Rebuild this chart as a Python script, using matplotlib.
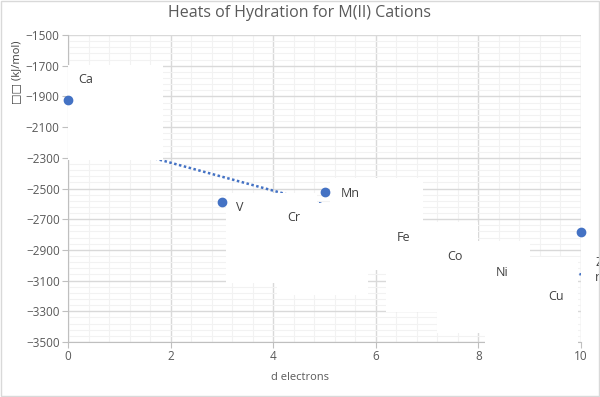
import numpy as np
import matplotlib.pyplot as plt
from matplotlib.patches import Rectangle
from matplotlib.ticker import MultipleLocator

# visible data points (d electron count vs heat of hydration)
d_count = [0, 3, 5, 10]
heat = [-1923, -2588, -2522, -2783]

# dotted linear trendline as drawn in the chart
trend_x = [0, 10]
trend_y = [-2150, -3060]

labels = ['Ca', 'V', 'Cr', 'Mn', 'Fe', 'Co', 'Ni', 'Cu', 'Z\nn']

# label box layout (left, top, right, bottom) in data units
boxes = [
    (0.00, -1695, 1.85, -2314),
    (3.08, -2529, 4.85, -3116),
    (4.07, -2594, 5.85, -3194),
    (5.11, -2432, 6.92, -3031),
    (6.20, -2718, 7.99, -3305),
    (7.19, -2842, 9.01, -3441),
    (8.13, -2946, 9.94, -3530),
    (9.16, -3103, 9.94, -3530),
    (10.08, -2842, 11.9, -3441),
]

blue = '#4472C4'
grey = '#595959'
font = ['Open Sans', 'DejaVu Sans']

fig = plt.figure(figsize=(6.0, 3.97), dpi=100)
ax = fig.add_axes([68 / 600, 1 - 342 / 397, 513 / 600, 307 / 397])

ax.set_xlim(0, 10)
ax.set_ylim(-3500, -1500)
ax.xaxis.set_major_locator(MultipleLocator(2))
ax.xaxis.set_minor_locator(MultipleLocator(0.4))
ax.yaxis.set_major_locator(MultipleLocator(200, offset=100))
ax.yaxis.set_minor_locator(MultipleLocator(40, offset=20))
ax.grid(which='major', color='#d9d9d9', lw=1.0, zorder=0)
ax.grid(which='minor', color='#f2f2f2', lw=0.8, zorder=0)
ax.set_axisbelow(True)
ax.tick_params(which='minor', length=0)
ax.tick_params(which='major', length=4, color='#bfbfbf', labelsize=8.5,
               labelcolor=grey, pad=2)
for lab in ax.get_xticklabels() + ax.get_yticklabels():
    lab.set_family(font)
for s in ['top', 'right']:
    ax.spines[s].set_visible(False)
for s in ['left', 'bottom']:
    ax.spines[s].set_color('#bfbfbf')
    ax.spines[s].set_zorder(1)

ax.plot(trend_x, trend_y, color=blue, lw=1.8, ls=(0, (1, 1)), zorder=2)

for (x0, y0, x1, y1), txt in zip(boxes, labels):
    ax.add_patch(Rectangle((x0, y1), x1 - x0, y0 - y1, facecolor='white',
                           edgecolor='none', zorder=3, clip_on=False))
    ax.text(x0 + 0.2, y0 - 98, txt, ha='left', va='top' if '\n' in txt else 'center',
            fontsize=9, color='#404040', family=font, zorder=5,
            linespacing=1.2)

ax.scatter(d_count, heat, s=36, color=blue, zorder=6, clip_on=False)

fig.text(0.5, 1 - 13 / 397, 'Heats of Hydration for M(II) Cations', ha='center',
         va='center', fontsize=11.5, color=grey, family=font)
fig.text(300 / 600, 1 - 377 / 397, 'd electrons', ha='center', va='center',
         fontsize=8, color=grey, family=font)
fig.text(17 / 600, 1 - 72 / 397, '\u25a1\u25a1 (kJ/mol)', rotation=90, ha='center',
         va='center', fontsize=8, color='#404040', family=font)

fig.patches.append(Rectangle((0.002, 0.003), 0.996, 0.994, transform=fig.transFigure,
                             fill=False, edgecolor='#d9d9d9', lw=1))

fig.savefig('out.png', dpi=100)
